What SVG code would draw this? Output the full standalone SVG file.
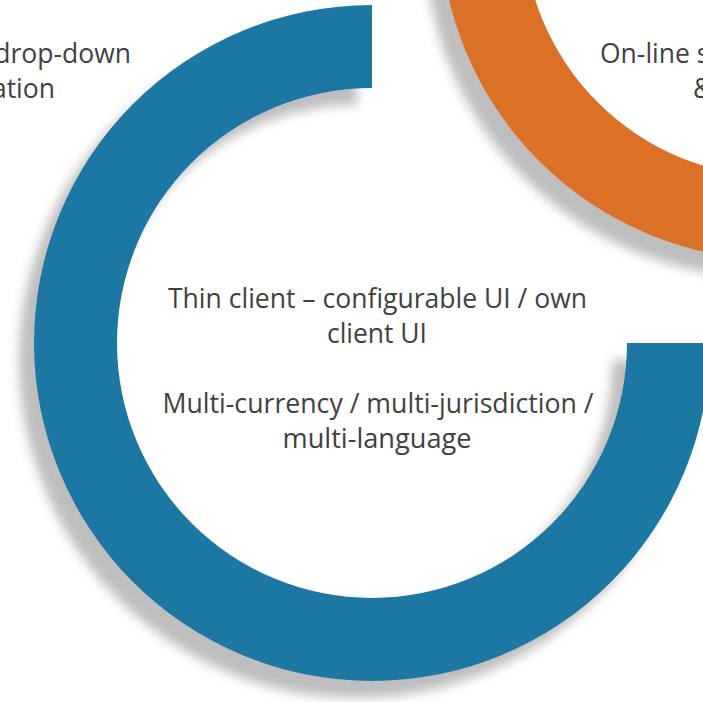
<svg xmlns="http://www.w3.org/2000/svg" width="703" height="702" viewBox="0 0 703 702">
  <defs>
    <filter id="shadow" x="-20%" y="-20%" width="140%" height="140%">
      <feDropShadow dx="-15" dy="17" stdDeviation="5.5" flood-color="#6d6e71" flood-opacity="0.45"/>
    </filter>
  </defs>
  <style>
    .ring-blue { fill: #1c77a3; filter: url(#shadow); }
    .ring-orange { fill: #db7128; filter: url(#shadow); }
    .label { font-family: "Open Sans", "Noto Sans", "Liberation Sans", sans-serif; font-size: 26.5px; fill: #414143; }
  </style>
  <rect width="703" height="702" fill="#ffffff"/>

  <g id="ring-orange">
    <path class="ring-orange" d="M 778 -416 A 338 338 0 1 0 1116 -78 L 1033 -78 A 255 255 0 1 1 778 -333 Z"/>
    <text class="label" x="600" y="63">On-line s</text>
    <text class="label" x="693" y="98">&amp;</text>
  </g>

  <g id="ring-blue">
    <path class="ring-blue" d="M 372 5 A 338 338 0 1 0 710 343 L 627 343 A 255 255 0 1 1 372 88 Z"/>
    <text class="label" text-anchor="middle" x="377.5" y="308" textLength="419" lengthAdjust="spacingAndGlyphs">Thin client – configurable UI / own</text>
    <text class="label" text-anchor="middle" x="377" y="343" textLength="100" lengthAdjust="spacingAndGlyphs">client UI</text>
    <text class="label" text-anchor="middle" x="378" y="413" textLength="431" lengthAdjust="spacingAndGlyphs">Multi-currency / multi-jurisdiction /</text>
    <text class="label" text-anchor="middle" x="377" y="448" textLength="189" lengthAdjust="spacingAndGlyphs">multi-language</text>
  </g>

  <g id="node-topleft">
    <text class="label" text-anchor="end" x="131" y="63">drop-down</text>
    <text class="label" text-anchor="end" x="55" y="98">ation</text>
  </g>

  <g id="connectors"></g>
</svg>
